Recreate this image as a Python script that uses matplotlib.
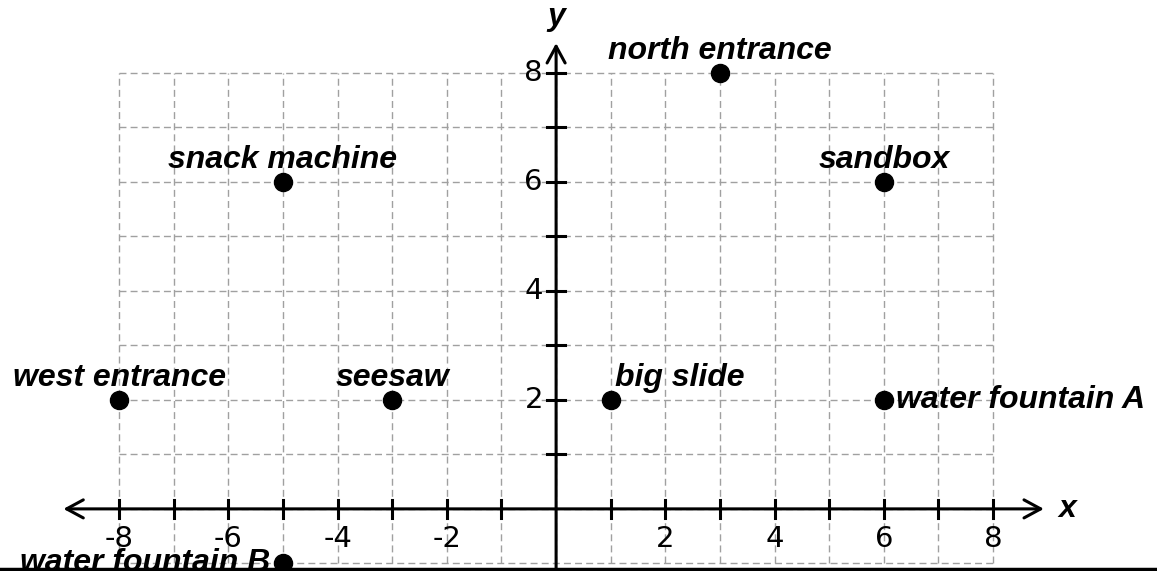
import numpy as np
import matplotlib.pyplot as plt
from matplotlib.lines import Line2D

# --- data ---------------------
places = ['north entrance', 'snack machine', 'sandbox', 'west entrance',
          'seesaw', 'big slide', 'water fountain A', 'water fountain B']
x_vals = [3, -5, 6, -8, -3, 1, 6, -5]
y_vals = [8, 6, 6, 2, 2, 2, 2, -1]

x_ticks = [-8, -7, -6, -5, -4, -3, -2, -1, 1, 2, 3, 4, 5, 6, 7, 8]
x_tick_labels = ['-8', '-6', '-4', '-2', '2', '4', '6', '8']
y_ticks = [1, 2, 3, 4, 5, 6, 7, 8]
y_tick_labels = ['2', '4', '6', '8']

# label placement: (dx, dy) in points, ha
place_style = {
    'north entrance': (0, 16, 'center'),
    'snack machine': (0, 16, 'center'),
    'sandbox': (0, 16, 'center'),
    'west entrance': (0, 16, 'center'),
    'seesaw': (0, 16, 'center'),
    'big slide': (3, 16, 'left'),
    'water fountain A': (9, 0, 'left'),
    'water fountain B': (-9, 0, 'right'),
}

fig = plt.figure(figsize=(11.57, 5.71), dpi=100)
ax = fig.add_axes([0, 0, 1, 1])
ax.set_xlim(-10.18, 11.0)
ax.set_ylim(-1.14, 9.34)
ax.axis('off')

# --- grid ---------------------
grid_kw = dict(color='#a0a0a0', lw=1.0, ls=(0, (5, 3)), zorder=1)
for gx in range(-8, 9):
	ax.plot([gx, gx], [-1, 8], **grid_kw)
for gy in range(-1, 9):
	ax.plot([-8, 8], [gy, gy], **grid_kw)

# --- axes with arrows ---------------------
arrow_kw = dict(arrowstyle='<->,head_length=1.2,head_width=0.65', color='black', lw=2.2)
ax.annotate('', xy=(8.98, 0), xytext=(-9.07, 0), arrowprops=arrow_kw, zorder=3)
ax.annotate('', xy=(0, 8.6), xytext=(0, -1.8), arrowprops=arrow_kw, zorder=3,
	annotation_clip=False)

tick_kw = dict(color='black', lw=2.2, zorder=3)
for t in x_ticks:
	ax.plot([t, t], [-0.17, 0.17], **tick_kw)
for t in y_ticks:
	ax.plot([-0.17, 0.17], [t, t], **tick_kw)

lab_kw = dict(fontsize=21, family='DejaVu Sans', fontweight='normal', color='black')
even_x = [t for t in x_ticks if t % 2 == 0]
for t, s in zip(even_x, x_tick_labels):
	ax.text(t, -0.55, s, ha='center', va='center', **lab_kw)
even_y = [t for t in y_ticks if t % 2 == 0]
for t, s in zip(even_y, y_tick_labels):
	ax.text(-0.24, t, s, ha='right', va='center', **lab_kw)

name_kw = dict(family='Liberation Sans', fontsize=23, fontweight='bold',
	fontstyle='italic', color='black')
ax.text(9.35, 0, 'x', ha='center', va='center', **name_kw)
ax.text(0, 9.02, 'y', ha='center', va='center', **name_kw)

# --- points ---------------------
ax.plot(x_vals, y_vals, 'o', color='black', ms=13, zorder=4, clip_on=False)
for name, px, py in zip(places, x_vals, y_vals):
	dx, dy, ha = place_style[name]
	ax.annotate(name, (px, py), xytext=(dx, dy), textcoords='offset points',
		ha=ha, va='center', zorder=5, **name_kw)

# bottom frame line
fig.add_artist(Line2D([0, 1], [0.004, 0.004], color='black', lw=2.5,
	transform=fig.transFigure))

fig.savefig('out.png', dpi=100)
plt.close()
